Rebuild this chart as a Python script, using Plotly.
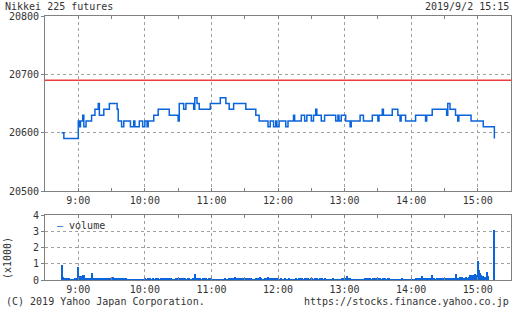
import plotly.graph_objects as go
import pandas as pd

DATE = "2019-09-02 "

# ---- price (step changes) ----
price_times = ["08:45","08:47","09:00","09:01","09:02","09:04","09:05","09:07","09:12","09:15",
               "09:18","09:19","09:23","09:28","09:35","09:36","09:39","09:41","09:47","09:50",
               "09:51","09:55","09:58","10:00","10:02","10:03","10:08","10:12","10:22","10:30",
               "10:31","10:35","10:37","10:44","10:45","10:47","10:49","10:59","11:08","11:13",
               "11:16","11:20","11:31","11:40","11:43","11:51","11:53","11:56","11:58","11:59",
               "12:01","12:07","12:09","12:14","12:15","12:21","12:24","12:26","12:30","12:32",
               "12:34","12:35","12:39","12:42","12:52","12:54","12:55","12:57","13:01","13:05",
               "13:06","13:14","13:17","13:25","13:30","13:31","13:34","13:35","13:43","13:48",
               "13:50","13:51","13:55","14:04","14:13","14:14","14:19","14:32","14:33","14:35",
               "14:40","14:42","14:43","14:54","15:05","15:15"]
price_values = [20600,20590,20620,20610,20620,20630,20610,20620,20630,20640,
                20650,20630,20640,20650,20640,20620,20610,20620,20610,20620,
                20610,20620,20610,20620,20610,20620,20630,20640,20630,20620,
                20650,20640,20650,20640,20660,20650,20640,20650,20660,20650,
                20640,20650,20640,20630,20620,20610,20620,20610,20620,20610,
                20620,20610,20620,20630,20620,20630,20620,20630,20620,20630,
                20640,20630,20620,20630,20620,20630,20620,20630,20620,20610,
                20620,20630,20620,20630,20620,20630,20640,20630,20640,20630,
                20620,20630,20620,20630,20620,20630,20640,20630,20650,20640,
                20630,20620,20630,20620,20610,20590]
prev_close = 20690

# ---- volume per minute (x1000), 08:45 .. 15:15 ----
volume_start = "08:45"
volume_values = [
    0.92,0.16,0.15,0.10,0.12,0.14,0.10,0.12,0.05,0.04,0.06,0.05,0.08,0.15,0.14,   # 08:45
    0.78,0.22,0.25,0.20,0.33,0.30,0.12,0.15,0.10,0.12,0.14,0.08,0.43,0.12,0.10,   # 09:00
    0.10,0.12,0.08,0.10,0.14,0.12,0.10,0.15,0.12,0.10,0.08,0.12,0.14,0.10,0.12,   # 09:15
    0.10,0.20,0.12,0.10,0.15,0.08,0.12,0.10,0.14,0.08,0.06,0.10,0.12,0.08,0.05,   # 09:30
    0.06,0.04,0.05,0.03,0.06,0.02,0.04,0.05,0.03,0.06,0.02,0.03,0.05,0.04,0.06,   # 09:45
    0.08,0.05,0.06,0.10,0.04,0.08,0.06,0.12,0.05,0.04,0.10,0.06,0.08,0.05,0.06,   # 10:00
    0.10,0.08,0.06,0.12,0.15,0.10,0.14,0.06,0.08,0.12,0.05,0.06,0.04,0.08,0.05,   # 10:15
    0.12,0.06,0.10,0.15,0.08,0.05,0.10,0.06,0.04,0.08,0.12,0.06,0.05,0.08,0.10,   # 10:30
    0.37,0.12,0.10,0.08,0.14,0.10,0.06,0.12,0.08,0.05,0.10,0.06,0.04,0.08,0.06,   # 10:45
    0.10,0.05,0.04,0.06,0.03,0.05,0.04,0.06,0.02,0.05,0.04,0.06,0.08,0.05,0.04,   # 11:00
    0.06,0.10,0.08,0.12,0.10,0.15,0.20,0.12,0.10,0.08,0.14,0.10,0.06,0.12,0.15,   # 11:15
    0.10,0.08,0.12,0.06,0.10,0.05,0.08,0.06,0.04,0.05,0.08,0.06,0.10,0.05,0.20,   # 11:30
    0.08,0.05,0.06,0.10,0.08,0.12,0.20,0.10,0.06,0.08,0.12,0.10,0.08,0.12,0.15,   # 11:45
    0.10,0.06,0.05,0.08,0.04,0.06,0.10,0.05,0.04,0.06,0.08,0.05,0.03,0.06,0.04,   # 12:00
    0.05,0.08,0.04,0.06,0.10,0.05,0.08,0.12,0.06,0.10,0.14,0.08,0.10,0.06,0.05,   # 12:15
    0.12,0.08,0.06,0.10,0.05,0.08,0.06,0.04,0.10,0.06,0.12,0.05,0.08,0.04,0.06,   # 12:30
    0.05,0.04,0.06,0.03,0.05,0.08,0.04,0.06,0.05,0.03,0.04,0.06,0.05,0.08,0.10,   # 12:45
    0.12,0.15,0.25,0.12,0.08,0.10,0.06,0.05,0.04,0.06,0.05,0.03,0.04,0.05,0.03,   # 13:00
    0.04,0.06,0.05,0.08,0.10,0.06,0.12,0.08,0.10,0.06,0.05,0.10,0.08,0.12,0.06,   # 13:15
    0.05,0.08,0.10,0.06,0.04,0.12,0.08,0.05,0.06,0.10,0.08,0.05,0.04,0.06,0.05,   # 13:30
    0.04,0.06,0.05,0.03,0.05,0.04,0.06,0.08,0.05,0.04,0.06,0.05,0.03,0.05,0.04,   # 13:45
    0.06,0.05,0.04,0.06,0.08,0.05,0.12,0.10,0.06,0.08,0.25,0.10,0.08,0.12,0.06,   # 14:00
    0.08,0.10,0.06,0.12,0.28,0.10,0.08,0.06,0.10,0.12,0.08,0.15,0.10,0.12,0.08,   # 14:15
    0.10,0.15,0.12,0.08,0.10,0.14,0.12,0.10,0.08,0.15,0.38,0.12,0.15,0.10,0.20,   # 14:30
    0.12,0.18,0.10,0.15,0.20,0.12,0.10,0.18,0.30,0.25,0.28,0.30,0.20,0.35,0.30,   # 14:45
    1.17,0.60,0.45,0.30,0.20,0.25,0.15,0.20,0.50,0.22,0.00,0.00,0.00,0.00,0.00,   # 15:00
    3.08,                                                                         # 15:15
]

x_range = ["08:30", "15:30"]
price_ticks = [20500, 20600, 20700, 20800]
volume_ticks = [0, 1, 2, 3, 4]

title_text = "Nikkei 225 futures"
date_text = "2019/9/2 15:15"
copyright_text = "(C) 2019 Yahoo Japan Corporation."
url_text = "https://stocks.finance.yahoo.co.jp"

# ---- build ----
vol_times = pd.date_range(DATE + volume_start, periods=len(volume_values), freq="1min")

BLUE = "#0a64dc"
RED = "#f03c3c"
FRAME = "#808080"
GRID = "#a0a0a0"
TXT = "#333333"
FONT = "DejaVu Sans Mono"

fig = go.Figure()
fig.add_trace(go.Scatter(x=[DATE + t for t in price_times], y=price_values, mode="lines",
                         line=dict(color=BLUE, width=1.5, shape="hv"), xaxis="x", yaxis="y",
                         showlegend=False, hoverinfo="skip"))
fig.add_trace(go.Bar(x=vol_times, y=volume_values, width=55000, marker=dict(color=BLUE, line=dict(width=0)),
                     xaxis="x2", yaxis="y2", showlegend=False, hoverinfo="skip"))
fig.add_shape(type="line", xref="paper", x0=0, x1=1, yref="y", y0=prev_close, y1=prev_close,
              line=dict(color=RED, width=1.5))

L, R, T, B = 45, 1, 16, 30
W, H = 512, 310
PW, PH = W - L - R, H - T - B
def px(x): return (x - L) / PW
def py(y): return (H - B - y) / PH

xcommon = dict(type="date", range=[DATE + x_range[0], DATE + x_range[1]],
               tick0=DATE + "09:00", dtick=3600000, tickformat="%-H:%M",
               ticks="inside", ticklen=3, tickcolor=FRAME,
               showgrid=True, gridcolor=GRID, griddash="dot", gridwidth=1,
               showline=True, linecolor=FRAME, linewidth=1, mirror="ticks",
               minor=dict(tick0=DATE + "08:30", dtick=1800000, ticks="inside", ticklen=3,
                          tickcolor=FRAME, showgrid=False),
               tickfont=dict(family=FONT, size=10, color=TXT), zeroline=False, fixedrange=True)
ycommon = dict(ticks="outside", ticklen=3, tickcolor=FRAME, tickformat="d",
               showgrid=True, gridcolor=GRID, griddash="dot", gridwidth=1,
               showline=True, linecolor=FRAME, linewidth=1, mirror=True,
               tickfont=dict(family=FONT, size=10, color=TXT), zeroline=False, fixedrange=True)

fig.update_layout(
    width=W, height=H, margin=dict(l=L, r=R, t=T, b=B),
    paper_bgcolor="white", plot_bgcolor="white",
    xaxis=dict(xcommon, anchor="y"),
    yaxis=dict(ycommon, domain=[py(191), 1], range=[price_ticks[0], price_ticks[-1]],
               tickvals=price_ticks, anchor="x"),
    xaxis2=dict(xcommon, anchor="y2"),
    yaxis2=dict(ycommon, domain=[0, py(215)], range=[volume_ticks[0], volume_ticks[-1]],
                tickvals=volume_ticks, anchor="x2"),
    bargap=0,
    font=dict(family=FONT, size=10, color=TXT),
    showlegend=False,
)

ann = dict(xref="paper", yref="paper", showarrow=False, font=dict(family=FONT, size=10, color=TXT))
fig.add_annotation(ann, text=title_text, x=px(3), y=py(6), xanchor="left", yanchor="middle")
fig.add_annotation(ann, text=date_text, x=px(511), y=py(6), xanchor="right", yanchor="middle")
fig.add_annotation(ann, text=copyright_text, x=px(4), y=py(301), xanchor="left", yanchor="middle")
fig.add_annotation(ann, text=url_text, x=px(511), y=py(301), xanchor="right", yanchor="middle")
fig.add_annotation(ann, text="(x1000)", x=px(7), y=py(258), xanchor="center", yanchor="middle", textangle=-90)
fig.add_annotation(ann, text="<span style='color:%s'>–</span> volume" % BLUE, x=px(55), y=py(225),
                   xanchor="left", yanchor="middle")

fig.write_html("out.html")
